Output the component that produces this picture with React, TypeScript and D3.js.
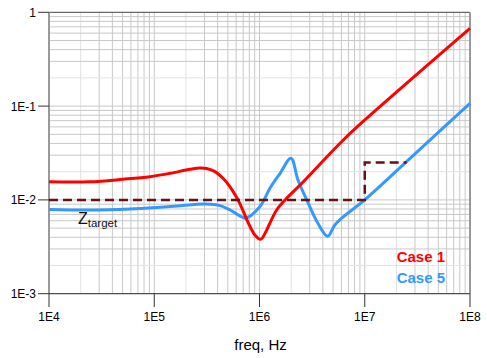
import React from "react";
import * as d3 from "d3";

const xTickLabels = ["1E4", "1E5", "1E6", "1E7", "1E8"];
const xTickValues = [1e4, 1e5, 1e6, 1e7, 1e8];
const yTickLabels = ["1", "1E-1", "1E-2", "1E-3"];
const yTickValues = [1, 1e-1, 1e-2, 1e-3];

const freqCase1 = [1e4, 2.45e4, 5.05e4, 9.12e4, 1.41e5, 2.19e5, 2.72e5, 3.15e5, 3.78e5, 4.5e5, 5.25e5, 6.25e5, 8.13e5, 9.07e5, 1.026e6, 1.13e6, 1.26e6, 1.455e6, 1.75e6, 2.43e6, 6.25e6, 1e7, 1e8];
const zCase1 = [0.0156, 0.0156, 0.0166, 0.0177, 0.0192, 0.0212, 0.0219, 0.0216, 0.0200, 0.0170, 0.0138, 0.0100, 0.0052, 0.0042, 0.0038, 0.0044, 0.0057, 0.0078, 0.0100, 0.0144, 0.0435, 0.0711, 0.675];

const freqCase5 = [1e4, 2.45e4, 5.89e4, 1.06e5, 1.64e5, 2.55e5, 3.39e5, 4.22e5, 5.25e5, 6.78e5, 7.45e5, 1.01e6, 1.26e6, 1.57e6, 1.99e6, 2.32e6, 2.81e6, 3.6e6, 4.44e6, 5.2e6, 6.25e6, 1e7, 3e7, 1e8];
const zCase5 = [0.0079, 0.0078, 0.0080, 0.0083, 0.0086, 0.0090, 0.0090, 0.0087, 0.0078, 0.0066, 0.0064, 0.0085, 0.0134, 0.0192, 0.0278, 0.0163, 0.0100, 0.0056, 0.0041, 0.0054, 0.0066, 0.0100, 0.031, 0.107];

const freqTarget = [1e4, 1e7, 1e7, 2.5e7];
const zTarget = [0.01, 0.01, 0.025, 0.025];

const legendLabels = ["Case 1", "Case 5"];

export default function App() {
  const W = 487, H = 358;
  const left = 49, right = 470, top = 12.3, bottom = 293.7;
  const x = d3.scaleLog().domain([1e4, 1e8]).range([left, right]);
  const y = d3.scaleLog().domain([1e-3, 1]).range([bottom, top]);

  const minorX: { v: number; m: number }[] = [];
  for (let e = 4; e < 8; e++) for (let m = 1; m <= 9; m++) minorX.push({ v: m * Math.pow(10, e), m });
  const minorY: { v: number; m: number }[] = [];
  for (let e = -3; e < 0; e++) for (let m = 1; m <= 9; m++) minorY.push({ v: m * Math.pow(10, e), m });

  const line = d3
    .line<[number, number]>()
    .x((d) => x(d[0]))
    .y((d) => y(d[1]))
    .curve(d3.curveCatmullRom.alpha(0.5));
  const straight = d3
    .line<[number, number]>()
    .x((d) => x(d[0]))
    .y((d) => y(d[1]));

  const d1 = line(freqCase1.map((f, i) => [f, zCase1[i]] as [number, number])) || "";
  const d5 = line(freqCase5.map((f, i) => [f, zCase5[i]] as [number, number])) || "";
  const dT = straight(freqTarget.map((f, i) => [f, zTarget[i]] as [number, number])) || "";

  const font = "'Liberation Sans', Arial, sans-serif";

  return (
    <svg width={W} height={H} style={{ position: "absolute", left: 0, top: 0, background: "#fff" }}>
      <rect x={0} y={0} width={W} height={H} fill="#fff" />
      {minorX.map((g, i) => (
        <line key={"gx" + i} x1={x(g.v)} x2={x(g.v)} y1={top} y2={bottom} stroke={g.m === 2 ? "#e2e2e2" : "#c8c8c8"} strokeWidth={1} />
      ))}
      {minorY.map((g, i) => (
        <line key={"gy" + i} x1={left} x2={right} y1={y(g.v)} y2={y(g.v)} stroke={g.m === 2 ? "#e2e2e2" : "#c8c8c8"} strokeWidth={1} />
      ))}
      <line x1={left} x2={right} y1={top} y2={top} stroke="#444" strokeWidth={1} />
      <line x1={right} x2={right} y1={top} y2={bottom} stroke="#999" strokeWidth={2} />
      <line x1={left} x2={left} y1={top} y2={bottom} stroke="#999" strokeWidth={2} />
      <line x1={left} x2={right} y1={bottom} y2={bottom} stroke="#333" strokeWidth={1} />
      {yTickValues.map((v, i) => (
        <g key={"yt" + i}>
          <line x1={38} x2={left} y1={y(v)} y2={y(v)} stroke="#333" strokeWidth={1} />
          <text x={36} y={y(v) + 4.5} textAnchor="end" fontFamily={font} fontSize={12} fill="#000">
            {yTickLabels[i]}
          </text>
        </g>
      ))}
      {xTickValues.map((v, i) => (
        <g key={"xt" + i}>
          <line x1={x(v)} x2={x(v)} y1={bottom} y2={307} stroke="#333" strokeWidth={1} />
          <text x={x(v)} y={321} textAnchor="middle" fontFamily={font} fontSize={12} fill="#000">
            {xTickLabels[i]}
          </text>
        </g>
      ))}
      <text x={260.5} y={350} textAnchor="middle" fontFamily={font} fontSize={15} fill="#000">
        freq, Hz
      </text>
      <path d={d5} fill="none" stroke="#3399ff" strokeWidth={3} strokeLinejoin="round" />
      <path d={d1} fill="none" stroke="#ff0000" strokeWidth={3} strokeLinejoin="round" />
      <path d={dT} fill="none" stroke="#6a0f0f" strokeWidth={2.5} strokeDasharray="9,5" />
      <text x={78} y={223.5} fontFamily={font} fontSize={16} fill="#111">
        Z<tspan fontSize={11.5} dy={3.5}>target</tspan>
      </text>
      <text x={445} y={262} textAnchor="end" fontFamily={font} fontSize={15} fontWeight="bold" fill="#ff0000">
        {legendLabels[0]}
      </text>
      <text x={445} y={282.5} textAnchor="end" fontFamily={font} fontSize={15} fontWeight="bold" fill="#3399ff">
        {legendLabels[1]}
      </text>
    </svg>
  );
}
